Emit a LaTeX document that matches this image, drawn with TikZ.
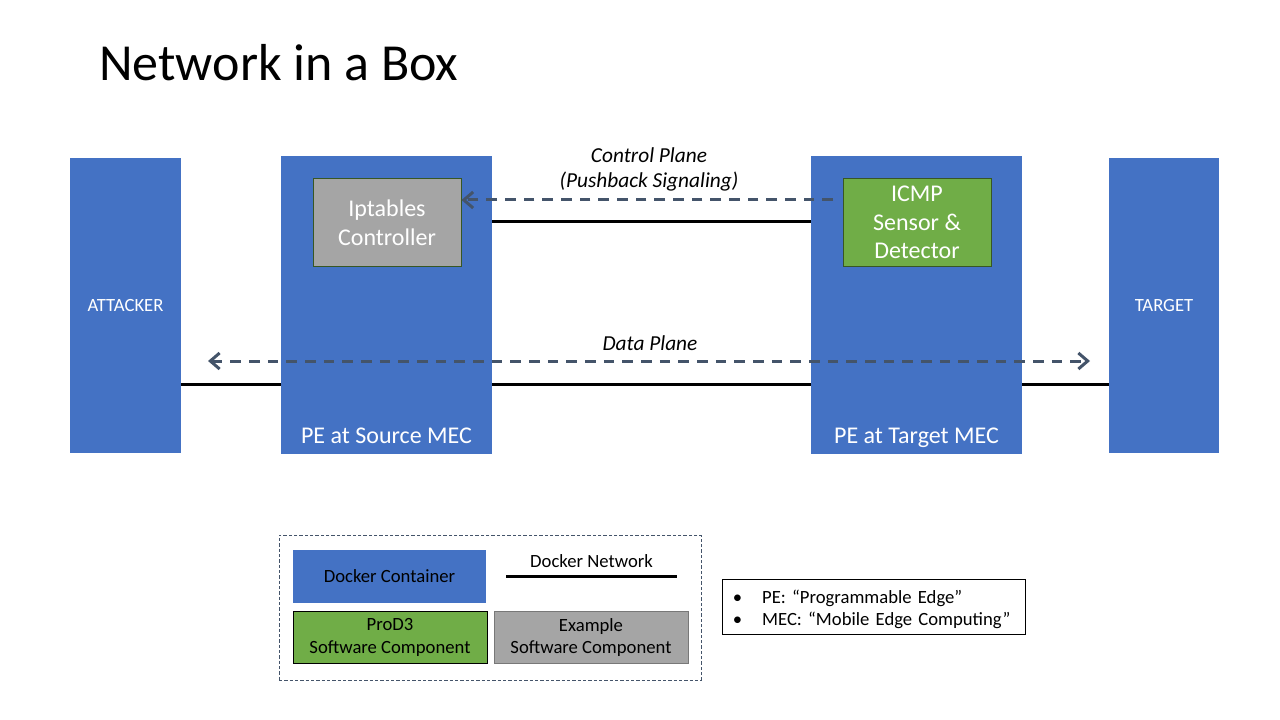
\documentclass[tikz,border=0pt]{standalone}
\usepackage{fontspec}
\setmainfont{Carlito}
\usepackage{tikz}
\usetikzlibrary{arrows.meta}
\definecolor{cblue}{RGB}{68,114,196}
\definecolor{cgreen}{RGB}{112,173,71}
\definecolor{cgray}{RGB}{165,165,165}
\definecolor{cslate}{RGB}{68,84,106}
\definecolor{cdgreen}{RGB}{56,87,35}
\definecolor{cdgray}{RGB}{120,120,120}
\frenchspacing

\begin{document}
\begin{tikzpicture}[x=0.75pt,y=-0.75pt,>={Straight Barb[length=7pt,width=12pt]},
  container node/.style={rectangle,fill=cblue,inner sep=0pt,text=white,font=\fontsize{14}{17}\selectfont},
  pe node/.style={container node,minimum width=158.25pt,minimum height=223.5pt},
  end node/.style={container node,minimum height=221.25pt},
  sw node/.style={rectangle,draw=cdgreen,line width=0.75pt,text=white,align=center,inner sep=2pt,minimum width=111pt,minimum height=65.25pt,font=\fontsize{18}{21.6}\selectfont},
  key node/.style={rectangle,line width=0.75pt,align=center,minimum width=145.5pt,minimum height=39pt,font=\fontsize{14}{17}\selectfont},
  pe label/.style={text=white,anchor=base,yshift=8.25pt,inner sep=0pt,font=\fontsize{18}{21.6}\selectfont},
  plane label/.style={align=center,font=\fontsize{16}{19.2}\selectfont\itshape},
  net/.style={black,line width=2.25pt},
  flow/.style={cslate,line width=2.25pt,dash pattern=on 8pt off 6pt}]
  \useasboundingbox (0,0) rectangle (1280,720);

  % title
  \node[anchor=west,inner sep=0pt,font=\fontsize{39}{47}\selectfont] (title) at (99,63) {Network in a Box};

  % containers
  \node[end node,minimum width=83.25pt] (attacker) at (125.5,305.5) {ATTACKER};
  \node[pe node,label={[pe label]south:PE at Source MEC}] (srcpe) at (386.5,305) {};
  \node[pe node,label={[pe label]south:PE at Target MEC}] (tgtpe) at (916.5,305) {};
  \node[end node,minimum width=82.5pt] (target) at (1164,305.5) {TARGET};

  % software parts
  \node[sw node,fill=cgray] (iptables) at (387,222.5) {Iptables\\Controller};
  \node[sw node,fill=cgreen] (icmp) at (917,222.5) {ICMP\\Sensor \&\\Detector};

  % docker networks
  \coordinate (cp) at (0,222);
  \coordinate (dp) at (0,384);
  \path[net]
    (srcpe.east |- cp) edge (tgtpe.west |- cp)
    (attacker.east |- dp) edge (srcpe.west |- dp)
    (srcpe.east |- dp) edge (tgtpe.west |- dp)
    (tgtpe.east |- dp) edge (target.west |- dp);

  % planes
  \coordinate (cpend) at (833,200);
  \coordinate (dpl) at (208,361);
  \coordinate (dpr) at (1090,361);
  \draw[flow,->] (cpend) -- (iptables.east |- cpend);
  \draw[flow,<->] (dpl) -- (dpr);
  \node[plane label] (cplabel) at (649,169.5) {Control Plane\\(Pushback Signaling)};
  \node[plane label] (dplabel) at (650,343) {Data Plane};

  % legend
  \node[draw=cslate,line width=0.75pt,dash pattern=on 2.5pt off 1.5pt,minimum width=316.5pt,minimum height=108.75pt] (legend) at (490,607.5) {};
  \node[key node,fill=cblue,minimum width=144.75pt,minimum height=39.75pt] (lgcont) at (389.5,576.5) {Docker Container};
  \coordinate (netl) at (506,576);
  \coordinate (netr) at (677,576);
  \draw[net] (netl) -- (netr) node[midway,above=2pt,font=\fontsize{14}{17}\selectfont] (lgnet) {Docker Network};
  \node[key node,fill=cgreen,draw=black] (lgprod) at (390,637.5) {ProD3\\Software Component};
  \node[key node,fill=cgray,draw=cdgray] (lgex) at (591,637.5) {Example\\Software Component};

  % notes
  \node[draw=black,line width=0.75pt,minimum width=227.25pt,minimum height=41.25pt,text width=207pt,align=left,inner xsep=9.75pt,font=\fontsize{14}{16.5}\selectfont] (notes) at (873.5,606.5)
    {\rule{0pt}{15pt}\makebox[20pt][l]{\hspace{-2pt}\textbullet}PE: “Programmable Edge”\\\makebox[20pt][l]{\hspace{-2pt}\textbullet}MEC: “Mobile Edge Computing”};
\end{tikzpicture}
\end{document}
